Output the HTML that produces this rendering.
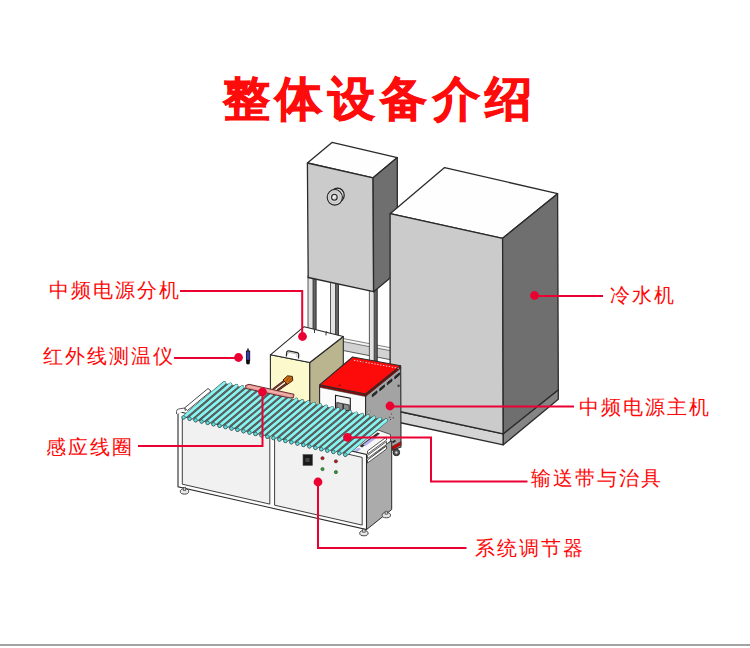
<!DOCTYPE html>
<html><head><meta charset="utf-8">
<style>
html,body{margin:0;padding:0;background:#fff;}
body{width:750px;height:648px;position:relative;overflow:hidden;font-family:"Liberation Sans",sans-serif;}
.t{position:absolute;line-height:1;white-space:nowrap;}
.title{left:223px;top:74.5px;font-size:47px;font-weight:900;color:#fe0b0b;letter-spacing:5.4px;-webkit-text-stroke:0.9px #fe0b0b;}
.lb{font-size:20px;letter-spacing:2px;color:#ff0808;font-weight:300;}
svg{position:absolute;left:0;top:0;}
.hr{position:absolute;left:0;top:644px;width:750px;height:2px;background:#a3a3a3;}
</style></head><body>
<div class="t title">整体设备介绍</div>

<svg width="750" height="648" viewBox="0 0 750 648" id="m">
<!-- MACHINE -->
<!-- base rail -->
<polygon points="338,339.5 392,350 392,360 338,349.5" fill="#d2d2d2" stroke="#333" stroke-width="0.8"/>
<polygon points="338,337.5 392,348 392,351 338,340.5" fill="#f6f6f6" stroke="#333" stroke-width="0.6"/>
<!-- legs of tall cabinet -->
<g stroke="#333" stroke-width="0.8">
<rect x="308" y="276" width="8" height="82" fill="#e2e2e2"/>
<rect x="313" y="276" width="3" height="82" fill="#626262"/>
<rect x="330.5" y="280" width="8" height="80" fill="#e2e2e2"/>
<rect x="335.5" y="280" width="3" height="80" fill="#626262"/>
<rect x="369.3" y="288" width="7.8" height="73" fill="#e2e2e2"/>
<rect x="374.1" y="288" width="3" height="73" fill="#626262"/>
</g>
<!-- tall cabinet -->
<g stroke="#2a2a2a" stroke-width="1.3" stroke-linejoin="round">
<polygon points="307.4,163 332,142.4 397.3,157.6 373.1,177.8" fill="#fefefe"/>
<polygon points="307.4,163 373.1,177.8 373.6,291.7 308.2,277.5" fill="#cbcbcb"/>
<polygon points="373.1,177.8 397.3,157.6 397.3,272 373.6,291.7" fill="#6f6f6f"/>
</g>
<!-- knob -->
<g fill="none" stroke="#222" stroke-width="1.1">
<ellipse cx="337.6" cy="195.2" rx="6.6" ry="7" fill="#e8e8e8" stroke-width="1.3"/>
<ellipse cx="334.8" cy="197.3" rx="7.6" ry="7.8" fill="#d8d8d8"/>
<ellipse cx="334.5" cy="197.3" rx="5.5" ry="5.6" stroke="#aaa" stroke-width="0.6"/>
<ellipse cx="334.4" cy="197.3" rx="2.8" ry="3" fill="#d0d0d0"/><path d="M333,198.5 q0.5,-2.2 2.5,-2.2" stroke="#fff" stroke-width="1.2"/>
</g>
<!-- big cabinet -->
<g stroke="#2a2a2a" stroke-width="1.3" stroke-linejoin="round">
<polygon points="390.1,409.5 503.3,433.8 503.3,444.8 390.1,420.5" fill="#d4d4d4"/>
<polygon points="503.3,433.8 558.3,389.8 558.3,399.3 503.3,444.8" fill="#858585"/>
<polygon points="390.1,213.7 444.6,167.6 557.6,193.7 502.6,238.3" fill="#fefefe"/>
<polygon points="390.1,213.7 502.6,238.3 503.3,433.8 390.1,409.5" fill="#cbcbcb"/>
<polygon points="502.6,238.3 557.6,193.7 558.3,389.8 503.3,433.8" fill="#6f6f6f"/>
</g>

<!-- END1 -->
<!-- P2 -->
<g stroke="#2a2a2a" stroke-width="1.1" stroke-linejoin="round">
<polygon points="270.4,354.8 309.8,362.5 309.8,425 270.4,417" fill="#fcf9cc"/>
<polygon points="309.8,362.5 343.3,336.5 343.3,400 309.8,425" fill="#bab58f"/>
<polygon points="270.4,354.8 304.1,326.7 343.3,336.5 309.8,362.5" fill="#fefefe"/>
</g>
<path d="M286.3,356.5 L286.8,352 Q287.2,350.6 288.7,350.9 L297.3,352.6 Q298.8,353 298.7,354.5 L298.5,358.5" fill="none" stroke="#222" stroke-width="1.2"/>
<path d="M287.5,355 L288.3,352.3 L297,354 L296.8,357" fill="none" stroke="#aaa" stroke-width="0.8"/>
<path d="M314.5,329.3 l0,3.6 M314.5,329.3 l1.2,0.3 M326,331.8 l0,3.6 M326,331.8 l1.2,0.3" stroke="#333" stroke-width="1" fill="none"/>
<g stroke="#2a2a2a" stroke-width="1.1" stroke-linejoin="round">
<polygon points="319.6,386 365.6,395.5 365.6,452 319.6,442" fill="#fbfbfb"/>
<polygon points="365.6,395.5 400.7,367 401,447 365.6,460" fill="#a3a3a3"/>
<polygon points="319.6,384.8 365.6,394 365.6,396.5 319.6,387.3" fill="#8a0a0a" stroke-width="0.6"/>
<polygon points="365.6,394 400.7,365.7 400.7,368.2 365.6,396.5" fill="#8a0a0a" stroke-width="0.6"/>
<polygon points="319.6,384.8 352.6,357 400.7,365.7 365.6,394" fill="#fd0b0b"/>
</g>
<rect x="354.0" y="360.0" width="1.3" height="0.8" fill="#fff"/><rect x="356.9" y="360.5" width="1.3" height="0.8" fill="#fff"/><rect x="359.8" y="361.0" width="1.3" height="0.8" fill="#fff"/><rect x="362.7" y="361.6" width="1.3" height="0.8" fill="#fff"/><rect x="365.6" y="362.1" width="1.3" height="0.8" fill="#fff"/><rect x="368.5" y="362.6" width="1.3" height="0.8" fill="#fff"/><rect x="371.4" y="363.1" width="1.3" height="0.8" fill="#fff"/><rect x="374.3" y="363.6" width="1.3" height="0.8" fill="#fff"/><rect x="377.2" y="364.2" width="1.3" height="0.8" fill="#fff"/><rect x="380.1" y="364.7" width="1.3" height="0.8" fill="#fff"/><rect x="383.0" y="365.2" width="1.3" height="0.8" fill="#fff"/><rect x="385.9" y="365.7" width="1.3" height="0.8" fill="#fff"/><rect x="388.8" y="366.2" width="1.3" height="0.8" fill="#fff"/><rect x="391.7" y="366.8" width="1.3" height="0.8" fill="#fff"/><rect x="394.6" y="367.3" width="1.3" height="0.8" fill="#fff"/><rect x="397.5" y="367.8" width="1.3" height="0.8" fill="#fff"/>
<circle cx="339.7" cy="385.3" r="0.8" fill="#222"/><circle cx="364" cy="362" r="0.7" fill="#222"/>
<g stroke="#1a1a1a" stroke-width="1.1"><polygon points="335.5,395.3 350.3,398.3 350.3,411 335.5,408" fill="#f4f4f4"/>
<polygon points="336.8,402.5 342.8,403.7 342.8,410.5 336.8,409.3" fill="#8c8c8c" stroke-width="0.8"/><polygon points="343.5,403.8 349.2,405 349.2,411 343.5,410" fill="#8c8c8c" stroke-width="0.8"/></g>
<path d="M372.3,396.8 l4.6,-3.7 l0,-2.2 l-4.6,3.7 z" fill="#2a2a2a" stroke="#222" stroke-width="1" stroke-linejoin="round"/><path d="M379.8,390.8 l4.6,-3.7 l0,-2.2 l-4.6,3.7 z" fill="#2a2a2a" stroke="#222" stroke-width="1" stroke-linejoin="round"/><path d="M387.3,384.8 l4.6,-3.7 l0,-2.2 l-4.6,3.7 z" fill="#2a2a2a" stroke="#222" stroke-width="1" stroke-linejoin="round"/><path d="M394.8,378.8 l4.6,-3.7 l0,-2.2 l-4.6,3.7 z" fill="#2a2a2a" stroke="#222" stroke-width="1" stroke-linejoin="round"/><circle cx="398.6" cy="385.8" r="1.3" fill="#444"/>
<circle cx="369" cy="412" r="1.2" fill="#eee" stroke="#444" stroke-width="0.5"/>
<path d="M391,414 l1,0 M389,417 l1.5,0.5 M393,417 l0.5,1.5 M390,420 l1,-1" stroke="#333" stroke-width="0.8"/>
<polygon points="392,446.5 401,441.5 401,445 392,450" fill="#c00" stroke="#333" stroke-width="0.5"/><path d="M392.5,442.5 l3,-2" stroke="#222" stroke-width="1.6"/>
<circle cx="396.4" cy="452.5" r="3.2" fill="#555" stroke="#222" stroke-width="1"/><circle cx="396.4" cy="452.5" r="1.2" fill="#ccc"/>
<!-- P3 -->
<polygon points="366.5,454.4 391.7,441 391.7,509.5 366.5,529.6" fill="#ababab" stroke="#2a2a2a" stroke-width="1"/>
<g stroke="#333" stroke-width="0.8">
<polygon points="347,452.5 358,445 378,430 390.5,434.5 390.5,441 367,461 366,456.5" fill="#f6f6f6"/>
<polygon points="359.5,446 377.5,432.5 380,433.5 362,447.5" fill="#333" stroke="none"/>
<polygon points="363,444.5 374,436.5 376.5,438 365.5,446" fill="#b4b0f0" stroke="none"/>
<polygon points="353.5,451 358.5,447.5 361,449 356,452.5" fill="#b4b0f0" stroke="none"/>
<polygon points="367.5,451 386.5,437 386.5,440 367.5,454" fill="#fff"/>
<polygon points="367.5,455.5 386.5,441.5 386.5,444.5 367.5,458.5" fill="#fff"/>
<polygon points="367.5,460 386.5,446 386.5,449 367.5,463" fill="#fff"/>
</g>
<polygon points="178,411.5 366.5,454.4 366.5,529.6 178,486.7" fill="#fdfdfd" stroke="#2a2a2a" stroke-width="1.1"/>
<polygon points="182.3,416.5 269.8,436.4 269.8,504.1 182.3,484.2" fill="#f1f1f1" stroke="#2a2a2a" stroke-width="0.9"/>
<polygon points="274.6,437.5 362.2,457.4 362.2,525.1 274.6,505.2" fill="#f1f1f1" stroke="#2a2a2a" stroke-width="0.9"/>
<ellipse cx="184.5" cy="491.5" rx="4.2" ry="2.6" fill="#e6e6e6" stroke="#333" stroke-width="0.9"/>
<rect x="183.3" y="487.5" width="2.4" height="3" fill="#ccc" stroke="#333" stroke-width="0.6"/>
<ellipse cx="363.9" cy="533.2" rx="4.2" ry="2.6" fill="#e6e6e6" stroke="#333" stroke-width="0.9"/>
<rect x="362.7" y="529.2" width="2.4" height="3" fill="#ccc" stroke="#333" stroke-width="0.6"/>
<ellipse cx="386.3" cy="515.2" rx="4.2" ry="2.6" fill="#e6e6e6" stroke="#333" stroke-width="0.9"/>
<rect x="385.1" y="511.20000000000005" width="2.4" height="3" fill="#ccc" stroke="#333" stroke-width="0.6"/>
<polygon points="184.6,416.4 346.3,453.7 386.1,420.3 224.4,383.0" fill="#6e6060"/>
<polygon points="184.5,408 208,388.5 211,391 187.5,410.5" fill="#fff" stroke="#333" stroke-width="0.9"/>
<path d="M176.5,414 l0,-2.5 q0,-2 2,-2.5 l6,-1 l1,3" fill="#fff" stroke="#333" stroke-width="0.8"/>
<line x1="183.6" y1="417.4" x2="224.4" y2="383.0" stroke="#34494a" stroke-width="3.8" stroke-linecap="round"/>
<line x1="183.6" y1="417.4" x2="224.4" y2="383.0" stroke="#88f4f0" stroke-width="2.9" stroke-linecap="round"/>
<circle cx="183.6" cy="417.4" r="1.8" fill="#66dcdc" stroke="#1f4040" stroke-width="0.6"/>
<line x1="189.6" y1="418.8" x2="230.4" y2="384.4" stroke="#34494a" stroke-width="3.8" stroke-linecap="round"/>
<line x1="189.6" y1="418.8" x2="230.4" y2="384.4" stroke="#88f4f0" stroke-width="2.9" stroke-linecap="round"/>
<circle cx="189.6" cy="418.8" r="1.8" fill="#66dcdc" stroke="#1f4040" stroke-width="0.6"/>
<line x1="195.6" y1="420.2" x2="236.4" y2="385.8" stroke="#34494a" stroke-width="3.8" stroke-linecap="round"/>
<line x1="195.6" y1="420.2" x2="236.4" y2="385.8" stroke="#88f4f0" stroke-width="2.9" stroke-linecap="round"/>
<circle cx="195.6" cy="420.2" r="1.8" fill="#66dcdc" stroke="#1f4040" stroke-width="0.6"/>
<line x1="201.6" y1="421.5" x2="242.4" y2="387.1" stroke="#34494a" stroke-width="3.8" stroke-linecap="round"/>
<line x1="201.6" y1="421.5" x2="242.4" y2="387.1" stroke="#88f4f0" stroke-width="2.9" stroke-linecap="round"/>
<circle cx="201.6" cy="421.5" r="1.8" fill="#66dcdc" stroke="#1f4040" stroke-width="0.6"/>
<line x1="207.6" y1="422.9" x2="248.4" y2="388.5" stroke="#34494a" stroke-width="3.8" stroke-linecap="round"/>
<line x1="207.6" y1="422.9" x2="248.4" y2="388.5" stroke="#88f4f0" stroke-width="2.9" stroke-linecap="round"/>
<circle cx="207.6" cy="422.9" r="1.8" fill="#66dcdc" stroke="#1f4040" stroke-width="0.6"/>
<line x1="213.5" y1="424.3" x2="254.3" y2="389.9" stroke="#34494a" stroke-width="3.8" stroke-linecap="round"/>
<line x1="213.5" y1="424.3" x2="254.3" y2="389.9" stroke="#88f4f0" stroke-width="2.9" stroke-linecap="round"/>
<circle cx="213.5" cy="424.3" r="1.8" fill="#66dcdc" stroke="#1f4040" stroke-width="0.6"/>
<line x1="219.5" y1="425.7" x2="260.3" y2="391.3" stroke="#34494a" stroke-width="3.8" stroke-linecap="round"/>
<line x1="219.5" y1="425.7" x2="260.3" y2="391.3" stroke="#88f4f0" stroke-width="2.9" stroke-linecap="round"/>
<circle cx="219.5" cy="425.7" r="1.8" fill="#66dcdc" stroke="#1f4040" stroke-width="0.6"/>
<line x1="225.5" y1="427.1" x2="266.3" y2="392.7" stroke="#34494a" stroke-width="3.8" stroke-linecap="round"/>
<line x1="225.5" y1="427.1" x2="266.3" y2="392.7" stroke="#88f4f0" stroke-width="2.9" stroke-linecap="round"/>
<circle cx="225.5" cy="427.1" r="1.8" fill="#66dcdc" stroke="#1f4040" stroke-width="0.6"/>
<line x1="231.5" y1="428.5" x2="272.3" y2="394.1" stroke="#34494a" stroke-width="3.8" stroke-linecap="round"/>
<line x1="231.5" y1="428.5" x2="272.3" y2="394.1" stroke="#88f4f0" stroke-width="2.9" stroke-linecap="round"/>
<circle cx="231.5" cy="428.5" r="1.8" fill="#66dcdc" stroke="#1f4040" stroke-width="0.6"/>
<line x1="237.5" y1="429.8" x2="278.3" y2="395.4" stroke="#34494a" stroke-width="3.8" stroke-linecap="round"/>
<line x1="237.5" y1="429.8" x2="278.3" y2="395.4" stroke="#88f4f0" stroke-width="2.9" stroke-linecap="round"/>
<circle cx="237.5" cy="429.8" r="1.8" fill="#66dcdc" stroke="#1f4040" stroke-width="0.6"/>
<line x1="243.5" y1="431.2" x2="284.3" y2="396.8" stroke="#34494a" stroke-width="3.8" stroke-linecap="round"/>
<line x1="243.5" y1="431.2" x2="284.3" y2="396.8" stroke="#88f4f0" stroke-width="2.9" stroke-linecap="round"/>
<circle cx="243.5" cy="431.2" r="1.8" fill="#66dcdc" stroke="#1f4040" stroke-width="0.6"/>
<line x1="249.5" y1="432.6" x2="290.3" y2="398.2" stroke="#34494a" stroke-width="3.8" stroke-linecap="round"/>
<line x1="249.5" y1="432.6" x2="290.3" y2="398.2" stroke="#88f4f0" stroke-width="2.9" stroke-linecap="round"/>
<circle cx="249.5" cy="432.6" r="1.8" fill="#66dcdc" stroke="#1f4040" stroke-width="0.6"/>
<line x1="255.5" y1="434.0" x2="296.3" y2="399.6" stroke="#34494a" stroke-width="3.8" stroke-linecap="round"/>
<line x1="255.5" y1="434.0" x2="296.3" y2="399.6" stroke="#88f4f0" stroke-width="2.9" stroke-linecap="round"/>
<circle cx="255.5" cy="434.0" r="1.8" fill="#66dcdc" stroke="#1f4040" stroke-width="0.6"/>
<line x1="261.5" y1="435.4" x2="302.3" y2="401.0" stroke="#34494a" stroke-width="3.8" stroke-linecap="round"/>
<line x1="261.5" y1="435.4" x2="302.3" y2="401.0" stroke="#88f4f0" stroke-width="2.9" stroke-linecap="round"/>
<circle cx="261.5" cy="435.4" r="1.8" fill="#66dcdc" stroke="#1f4040" stroke-width="0.6"/>
<line x1="267.4" y1="436.7" x2="308.2" y2="402.3" stroke="#34494a" stroke-width="3.8" stroke-linecap="round"/>
<line x1="267.4" y1="436.7" x2="308.2" y2="402.3" stroke="#88f4f0" stroke-width="2.9" stroke-linecap="round"/>
<circle cx="267.4" cy="436.7" r="1.8" fill="#66dcdc" stroke="#1f4040" stroke-width="0.6"/>
<line x1="273.4" y1="438.1" x2="314.2" y2="403.7" stroke="#34494a" stroke-width="3.8" stroke-linecap="round"/>
<line x1="273.4" y1="438.1" x2="314.2" y2="403.7" stroke="#88f4f0" stroke-width="2.9" stroke-linecap="round"/>
<circle cx="273.4" cy="438.1" r="1.8" fill="#66dcdc" stroke="#1f4040" stroke-width="0.6"/>
<line x1="279.4" y1="439.5" x2="320.2" y2="405.1" stroke="#34494a" stroke-width="3.8" stroke-linecap="round"/>
<line x1="279.4" y1="439.5" x2="320.2" y2="405.1" stroke="#88f4f0" stroke-width="2.9" stroke-linecap="round"/>
<circle cx="279.4" cy="439.5" r="1.8" fill="#66dcdc" stroke="#1f4040" stroke-width="0.6"/>
<line x1="285.4" y1="440.9" x2="326.2" y2="406.5" stroke="#34494a" stroke-width="3.8" stroke-linecap="round"/>
<line x1="285.4" y1="440.9" x2="326.2" y2="406.5" stroke="#88f4f0" stroke-width="2.9" stroke-linecap="round"/>
<circle cx="285.4" cy="440.9" r="1.8" fill="#66dcdc" stroke="#1f4040" stroke-width="0.6"/>
<line x1="291.4" y1="442.3" x2="332.2" y2="407.9" stroke="#34494a" stroke-width="3.8" stroke-linecap="round"/>
<line x1="291.4" y1="442.3" x2="332.2" y2="407.9" stroke="#88f4f0" stroke-width="2.9" stroke-linecap="round"/>
<circle cx="291.4" cy="442.3" r="1.8" fill="#66dcdc" stroke="#1f4040" stroke-width="0.6"/>
<line x1="297.4" y1="443.6" x2="338.2" y2="409.2" stroke="#34494a" stroke-width="3.8" stroke-linecap="round"/>
<line x1="297.4" y1="443.6" x2="338.2" y2="409.2" stroke="#88f4f0" stroke-width="2.9" stroke-linecap="round"/>
<circle cx="297.4" cy="443.6" r="1.8" fill="#66dcdc" stroke="#1f4040" stroke-width="0.6"/>
<line x1="303.4" y1="445.0" x2="344.2" y2="410.6" stroke="#34494a" stroke-width="3.8" stroke-linecap="round"/>
<line x1="303.4" y1="445.0" x2="344.2" y2="410.6" stroke="#88f4f0" stroke-width="2.9" stroke-linecap="round"/>
<circle cx="303.4" cy="445.0" r="1.8" fill="#66dcdc" stroke="#1f4040" stroke-width="0.6"/>
<line x1="309.4" y1="446.4" x2="350.2" y2="412.0" stroke="#34494a" stroke-width="3.8" stroke-linecap="round"/>
<line x1="309.4" y1="446.4" x2="350.2" y2="412.0" stroke="#88f4f0" stroke-width="2.9" stroke-linecap="round"/>
<circle cx="309.4" cy="446.4" r="1.8" fill="#66dcdc" stroke="#1f4040" stroke-width="0.6"/>
<line x1="315.4" y1="447.8" x2="356.2" y2="413.4" stroke="#34494a" stroke-width="3.8" stroke-linecap="round"/>
<line x1="315.4" y1="447.8" x2="356.2" y2="413.4" stroke="#88f4f0" stroke-width="2.9" stroke-linecap="round"/>
<circle cx="315.4" cy="447.8" r="1.8" fill="#66dcdc" stroke="#1f4040" stroke-width="0.6"/>
<line x1="321.3" y1="449.2" x2="362.1" y2="414.8" stroke="#34494a" stroke-width="3.8" stroke-linecap="round"/>
<line x1="321.3" y1="449.2" x2="362.1" y2="414.8" stroke="#88f4f0" stroke-width="2.9" stroke-linecap="round"/>
<circle cx="321.3" cy="449.2" r="1.8" fill="#66dcdc" stroke="#1f4040" stroke-width="0.6"/>
<line x1="327.3" y1="450.6" x2="368.1" y2="416.2" stroke="#34494a" stroke-width="3.8" stroke-linecap="round"/>
<line x1="327.3" y1="450.6" x2="368.1" y2="416.2" stroke="#88f4f0" stroke-width="2.9" stroke-linecap="round"/>
<circle cx="327.3" cy="450.6" r="1.8" fill="#66dcdc" stroke="#1f4040" stroke-width="0.6"/>
<line x1="333.3" y1="451.9" x2="374.1" y2="417.5" stroke="#34494a" stroke-width="3.8" stroke-linecap="round"/>
<line x1="333.3" y1="451.9" x2="374.1" y2="417.5" stroke="#88f4f0" stroke-width="2.9" stroke-linecap="round"/>
<circle cx="333.3" cy="451.9" r="1.8" fill="#66dcdc" stroke="#1f4040" stroke-width="0.6"/>
<line x1="339.3" y1="453.3" x2="380.1" y2="418.9" stroke="#34494a" stroke-width="3.8" stroke-linecap="round"/>
<line x1="339.3" y1="453.3" x2="380.1" y2="418.9" stroke="#88f4f0" stroke-width="2.9" stroke-linecap="round"/>
<circle cx="339.3" cy="453.3" r="1.8" fill="#66dcdc" stroke="#1f4040" stroke-width="0.6"/>
<line x1="345.3" y1="454.7" x2="386.1" y2="420.3" stroke="#34494a" stroke-width="3.8" stroke-linecap="round"/>
<line x1="345.3" y1="454.7" x2="386.1" y2="420.3" stroke="#88f4f0" stroke-width="2.9" stroke-linecap="round"/>
<circle cx="345.3" cy="454.7" r="1.8" fill="#66dcdc" stroke="#1f4040" stroke-width="0.6"/>
<path d="M273.5,389 L284,381 M278,390 L287,383.5" stroke="#4a1818" stroke-width="2.2" stroke-linecap="round"/>
<path d="M273.5,389 L284,381 M278,390 L287,383.5" stroke="#8a4a4a" stroke-width="0.7" stroke-linecap="round"/>
<polygon points="283,380 287.5,375.8 292.3,376.4 292.8,380.5 287.5,384.3" fill="#d07010" stroke="#3a1000" stroke-width="0.9"/><path d="M286,381.5 l3,-4 M288.5,382 l3,-4" stroke="#5a2a00" stroke-width="0.6"/>
<polygon points="245.5,385.5 249,384.3 294,394.3 293.5,397.5 290,398 246,388.5" fill="#e89a96" stroke="#5a2020" stroke-width="0.9"/>
<line x1="248" y1="386.3" x2="292" y2="396" stroke="#f6c8c4" stroke-width="0.7"/>
<rect x="303" y="454.5" width="9.5" height="11" fill="#1a1a1a" stroke="#555" stroke-width="0.6"/>
<rect x="305.5" y="458" width="4" height="4" fill="#444"/>
<circle cx="322.5" cy="458.2" r="1.6" fill="#d01010" stroke="#333" stroke-width="0.6"/>
<circle cx="335.9" cy="461.3" r="1.6" fill="#d01010" stroke="#333" stroke-width="0.6"/>
<circle cx="322.5" cy="469.1" r="1.6" fill="#10b020" stroke="#333" stroke-width="0.6"/>
<circle cx="335.9" cy="472.1" r="1.6" fill="#10b020" stroke="#333" stroke-width="0.6"/>
<!-- thermometer -->
<rect x="247" y="348.5" width="2" height="3" fill="#555"/>
<rect x="246.4" y="351" width="3.3" height="9.5" fill="#3838c8" stroke="#111" stroke-width="0.9"/>
<ellipse cx="248" cy="362" rx="2" ry="2.5" fill="#0a0a0a"/>
<!-- END3 -->
</svg>

<svg width="750" height="648" viewBox="0 0 750 648">
<g fill="none" stroke="#eb0032" stroke-width="2">
<polyline points="180,291 302.2,291 302.2,336"/>
<line x1="174" y1="358" x2="238" y2="358"/>
<polyline points="138,446 262.5,446 262.5,392"/>
<line x1="534" y1="296" x2="603" y2="296"/>
<line x1="390" y1="406.5" x2="574" y2="406.5"/>
<polyline points="347.5,437.5 431,437.5 431,481.5 527.5,481.5"/>
<polyline points="318,482 318,548 466.5,548"/>
</g>
<g fill="#eb0032">
<circle cx="302.5" cy="336.5" r="4.4"/>
<circle cx="238.5" cy="357.5" r="4.4"/>
<circle cx="262.5" cy="392" r="4.4"/>
<circle cx="534.5" cy="295.5" r="4.4"/>
<circle cx="390" cy="406" r="4.4"/>
<circle cx="347.5" cy="437.3" r="4.4"/>
<circle cx="318" cy="482" r="4.4"/>
</g>
</svg>

<div class="t lb" style="left:49px;top:280px">中频电源分机</div>
<div class="t lb" style="left:43px;top:346px">红外线测温仪</div>
<div class="t lb" style="left:46px;top:437px">感应线圈</div>
<div class="t lb" style="left:610px;top:285px">冷水机</div>
<div class="t lb" style="left:579px;top:397px">中频电源主机</div>
<div class="t lb" style="left:531px;top:468px">输送带与治具</div>
<div class="t lb" style="left:475px;top:538px">系统调节器</div>
<div class="hr"></div>
</body></html>
